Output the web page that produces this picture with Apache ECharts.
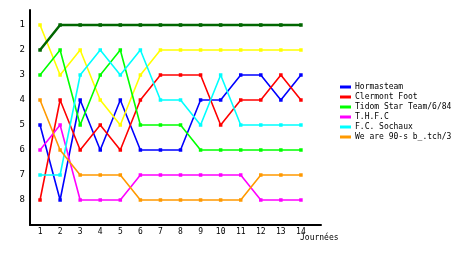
<!DOCTYPE html>
<html>
<head>
<meta charset="utf-8">
<script src="https://cdn.jsdelivr.net/npm/echarts@6/dist/echarts.min.js"></script>
<style>html,body{margin:0;padding:0;background:#fff;}#c{width:460px;height:255px;}</style>
</head>
<body>
<div id="c"></div>
<script>
var journees = [1,2,3,4,5,6,7,8,9,10,11,12,13,14];
var rankTicks = [1,2,3,4,5,6,7,8];
var teamNames = ['Hormasteam','Clermont Foot','Clermont Foot','Tidom Star Team/6/84','T.H.F.C','F.C. Sochaux','F.C. Sochaux','We are 90-s b_.tch/3'];
var teamColors = ['#0000ff','#ff0000','#ffff00','#00ff00','#ff00ff','#00ffff','#006600','#ff9900'];
var hormasteam = [5,8,4,6,4,6,6,6,4,4,3,3,4,3];
var clermontRed = [8,4,6,5,6,4,3,3,3,5,4,4,3,4];
var clermontYellow = [1,3,2,4,5,3,2,2,2,2,2,2,2,2];
var tidom = [3,2,5,3,2,5,5,5,6,6,6,6,6,6];
var thfc = [6,5,8,8,8,7,7,7,7,7,7,8,8,8];
var sochauxCyan = [7,7,3,2,3,2,4,4,5,3,5,5,5,5];
var sochauxDark = [2,1,1,1,1,1,1,1,1,1,1,1,1,1];
var ninetys = [4,6,7,7,7,8,8,8,8,8,8,7,7,7];
var allData = [hormasteam, clermontRed, clermontYellow, tidom, thfc, sochauxCyan, sochauxDark, ninetys];

var font = 'DejaVu Sans Mono';
var series = allData.map(function(arr, i){
  return {
    name: teamNames[i],
    type: 'line',
    data: arr.map(function(v, j){ return [journees[j], v]; }),
    symbol: 'rect',
    symbolSize: 3.5,
    showSymbol: true,
    color: teamColors[i],
    lineStyle: {width: i === 6 ? 2.5 : 1.6, color: teamColors[i]},
    itemStyle: {color: teamColors[i]},
    emphasis: {disabled: true},
    animation: false
  };
});

var chart = echarts.init(document.getElementById('c'), null, {renderer: 'canvas'});
chart.setOption({
  animation: false,
  backgroundColor: '#ffffff',
  title: {text: 'Journées', left: 300, top: 234, padding: 0, textStyle: {fontFamily: font, fontSize: 8, fontWeight: 'normal', color: '#000'}},
  grid: {left: 30, right: 139, top: 10, bottom: 30, containLabel: false},
  legend: {
    orient: 'vertical', left: 340, top: 82, padding: 0,
    itemWidth: 11, itemHeight: 3, itemGap: 0,
    icon: 'rect',
    data: teamNames.map(function(n, i){ return {name: n, itemStyle: {color: teamColors[i]}}; }),
    textStyle: {fontFamily: font, fontSize: 8, color: '#000', lineHeight: 10, padding: [0,0,0,-1]},
    selectedMode: false
  },
  xAxis: {
    type: 'value', min: 0.5, max: 15,
    axisLine: {lineStyle: {color: '#000', width: 2}},
    axisTick: {show: false},
    splitLine: {show: false},
    axisLabel: {customValues: journees, fontFamily: font, fontSize: 8, color: '#000', margin: 3}
  },
  yAxis: {
    type: 'value', inverse: true, min: 0.4, max: 9,
    axisLine: {show: true, lineStyle: {color: '#000', width: 2}},
    axisTick: {show: false},
    splitLine: {show: false},
    axisLabel: {customValues: rankTicks, fontFamily: font, fontSize: 9, color: '#000', margin: 5}
  },
  series: series
});
</script>
</body>
</html>
